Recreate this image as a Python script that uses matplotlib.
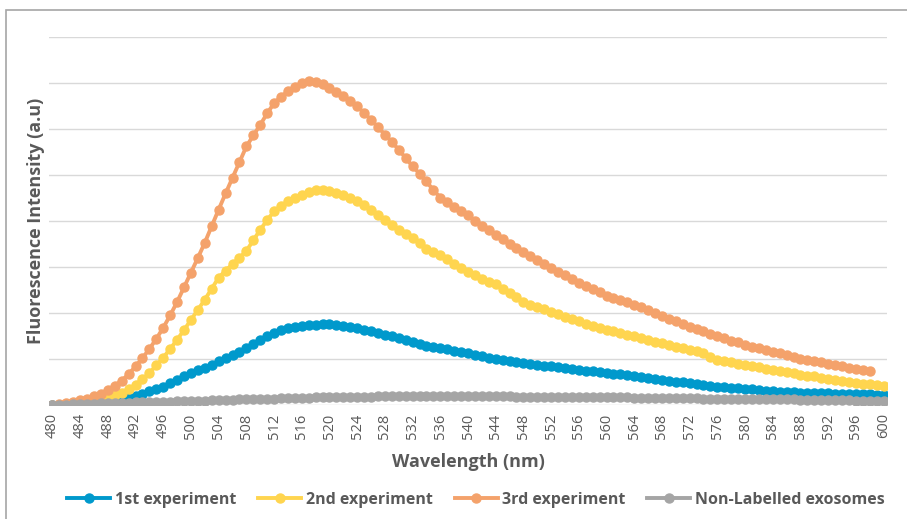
import numpy as np
import matplotlib
matplotlib.use('Agg')
import matplotlib.pyplot as plt
from matplotlib.patches import Rectangle

# wavelength axis, one reading per nm
wavelength = list(range(480, 601))

exp1 = [0, 1, 1, 2, 2, 3, 4, 4, 5, 8,
        12, 15, 19, 24, 30, 35, 40, 47, 55, 62,
        70, 76, 81, 88, 95, 102, 109, 116, 123, 133,
        142, 150, 157, 162, 167, 170, 172, 174, 175, 176,
        177, 175, 172, 170, 167, 164, 160, 157, 153, 150,
        146, 142, 138, 133, 129, 126, 124, 121, 118, 115,
        113, 109, 106, 103, 100, 98, 96, 93, 91, 89,
        87, 85, 84, 82, 80, 78, 77, 75, 73, 71,
        70, 68, 67, 65, 64, 61, 59, 57, 55, 53,
        51, 50, 48, 46, 44, 42, 40, 39, 38, 36,
        35, 34, 33, 31, 30, 29, 28, 28, 27, 27,
        26, 26, 26, 25, 25, 24, 24, 23, 23, 22,
        22]

exp2 = [-2, -3, -3, -2, 0, 3, 6, 10, 16, 21,
        27, 35, 44, 56, 70, 86, 103, 122, 142, 163,
        185, 207, 229, 253, 277, 292, 306, 320, 335, 358,
        381, 402, 421, 433, 443, 451, 457, 463, 467, 468,
        465, 461, 457, 450, 443, 434, 425, 414, 403, 392,
        381, 372, 364, 352, 340, 333, 327, 317, 307, 298,
        290, 282, 275, 268, 262, 253, 243, 234, 225, 218,
        212, 208, 203, 198, 192, 187, 182, 177, 172, 168,
        164, 160, 156, 152, 149, 145, 142, 138, 135, 131,
        127, 123, 120, 117, 114, 105, 98, 95, 93, 90,
        88, 85, 82, 79, 77, 74, 71, 69, 66, 64,
        62, 59, 57, 55, 52, 50, 48, 46, 45, 43,
        42]

# 3rd experiment stops at 598 nm
exp3 = [0, 2, 4, 7, 10, 14, 19, 25, 33, 42,
        53, 67, 84, 102, 122, 144, 168, 195, 224, 256,
        288, 320, 353, 389, 425, 460, 494, 528, 562, 586,
        609, 634, 656, 670, 682, 692, 700, 705, 702, 697,
        690, 681, 671, 661, 649, 635, 620, 604, 588, 572,
        555, 537, 519, 503, 486, 467, 451, 441, 431, 422,
        412, 400, 390, 380, 370, 360, 350, 341, 333, 324,
        315, 306, 298, 290, 282, 274, 266, 258, 252, 245,
        238, 233, 228, 223, 218, 212, 206, 200, 194, 188,
        182, 176, 170, 165, 160, 154, 149, 145, 140, 136,
        131, 127, 123, 120, 116, 112, 108, 105, 101, 98,
        95, 93, 90, 87, 84, 81, 79, 76, 73]

non_labelled = [0, 1, 1, 2, 2, 3, 3, 4, 4, 5,
                5, 5, 6, 6, 6, 7, 7, 7, 8, 8,
                8, 9, 9, 10, 10, 11, 11, 12, 12, 13,
                13, 14, 14, 15, 15, 16, 16, 16, 17, 17,
                17, 18, 18, 18, 18, 18, 18, 19, 19, 19,
                19, 19, 19, 19, 19, 19, 19, 19, 19, 19,
                19, 19, 19, 19, 19, 19, 19, 18, 18, 18,
                18, 18, 18, 18, 18, 18, 18, 18, 17, 17,
                17, 17, 17, 17, 16, 16, 16, 16, 16, 15,
                15, 15, 15, 15, 14, 14, 14, 14, 14, 13,
                13, 13, 13, 13, 12, 12, 12, 12, 11, 11,
                11, 11, 10, 10, 10, 10, 9, 9, 9, 9,
                8]

labels = ["1st experiment", "2nd experiment", "3rd experiment", "Non-Labelled exosomes"]
colors = ["#0099CC", "#FFD54F", "#F4A26B", "#A5A5A5"]
xtick_vals = list(range(480, 601, 4))

plt.rcParams['font.family'] = ['Open Sans', 'DejaVu Sans']
txt_color = "#595959"

fig = plt.figure(figsize=(9.07, 5.19), dpi=100)
# chart border (only left/top visible in the crop)
fig.patches.append(Rectangle((6 / 907, -0.1), 1.2, (519 - 10) / 519 + 0.1,
                             transform=fig.transFigure, fill=False,
                             edgecolor="#A6A6A6", linewidth=1.2))

ax = fig.add_axes([49 / 907, 114 / 519, 838 / 907, 368 / 519])

series = [exp1, exp2, exp3, non_labelled]
for vals, lab, col in zip(series, labels, colors):
    ax.plot(wavelength[:len(vals)], vals, color=col, lw=2.8, marker='o',
            markersize=6.5, label=lab, zorder=3)

ax.set_xlim(479.5, 600.5)
ax.set_ylim(0, 800)
ax.set_yticks(range(0, 801, 100))
ax.set_yticklabels([])
ax.tick_params(axis='y', length=0, pad=0)
ax.grid(axis='y', color="#D9D9D9", linewidth=1)
ax.set_axisbelow(True)
for s in ax.spines.values():
    s.set_visible(False)

ax.set_xticks(xtick_vals)
ax.set_xticklabels([str(v) for v in xtick_vals], rotation=90, fontsize=10.5, color=txt_color)
ax.tick_params(axis='x', length=0, pad=6)

ax.set_xlabel("Wavelength (nm)", fontsize=13, fontweight='bold', color=txt_color, labelpad=10)
ax.set_ylabel("Fluorescence Intensity (a.u)", fontsize=13, fontweight='bold', color=txt_color, labelpad=3)

fig.legend(loc='center', bbox_to_anchor=(0.525, 1 - 500 / 519), ncol=4, frameon=False,
           fontsize=11.5, handlelength=2.7, columnspacing=1.35, handletextpad=0.3,
           labelcolor=txt_color)
for t in fig.legends[0].get_texts():
    t.set_fontweight('bold')

fig.savefig("out.png", dpi=100)
